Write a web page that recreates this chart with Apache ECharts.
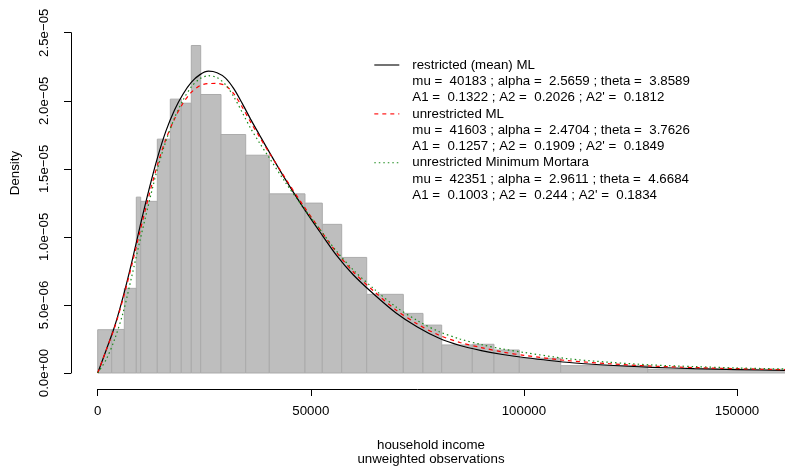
<!DOCTYPE html>
<html><head><meta charset="utf-8">
<script src="https://cdn.jsdelivr.net/npm/echarts@6/dist/echarts.min.js"></script>
<style>html,body{margin:0;padding:0;background:#fff}#c{width:785px;height:468px}</style>
</head><body><div id="c"></div>
<script>
// ---- data ----
const binEdges = [0, 3285, 6241, 9057, 10089, 13984, 17034, 19615, 21962, 24167, 28930, 34725, 40263,
  48639, 52698, 57250, 63116, 71704, 76326, 80713, 87893, 92980, 98920, 108640, 129050, 170000];
const binDensity = [3.18e-6, 3.2e-6, 6.22e-6, 1.292e-5, 1.261e-5, 1.718e-5, 2.012e-5, 1.982e-5, 2.406e-5,
  2.046e-5, 1.752e-5, 1.6e-5, 1.316e-5, 1.248e-5, 1.092e-5, 8.49e-6, 5.78e-6, 4.38e-6, 3.52e-6, 2.06e-6,
  2.11e-6, 1.69e-6, 1.08e-6, 5.4e-7, 2.7e-7];

const incomeGrid = [0,2000,4000,6000,8000,10000,12000,14000,16000,18000,20000,22000,24000,26000,28000,30000,
  32000,34000,36000,38000,40000,44000,48000,52000,56000,60000,65000,70000,75000,80000,85000,90000,95000,
  100000,110000,120000,130000,140000,150000,162000];
const densRestricted = [0,1.69e-6,3.45e-6,5.65e-6,8.15e-6,1.087e-5,1.344e-5,1.579e-5,1.777e-5,1.931e-5,2.048e-5,
  2.137e-5,2.192e-5,2.217e-5,2.206e-5,2.166e-5,2.085e-5,1.975e-5,1.858e-5,1.747e-5,1.637e-5,1.424e-5,1.226e-5,
  1.043e-5,8.66e-6,7.2e-6,5.73e-6,4.41e-6,3.38e-6,2.57e-6,2.02e-6,1.65e-6,1.36e-6,1.14e-6,7.9e-7,5.7e-7,4.2e-7,
  3.2e-7,2.5e-7,1.8e-7];
const densUnrestricted = [0,1.69e-6,3.38e-6,5.51e-6,7.93e-6,1.05e-5,1.3e-5,1.527e-5,1.718e-5,1.865e-5,1.982e-5,
  2.063e-5,2.111e-5,2.126e-5,2.127e-5,2.111e-5,2.048e-5,1.949e-5,1.836e-5,1.733e-5,1.63e-5,1.432e-5,1.241e-5,
  1.061e-5,8.88e-6,7.42e-6,5.95e-6,4.63e-6,3.6e-6,2.79e-6,2.24e-6,1.87e-6,1.54e-6,1.3e-6,9.2e-7,6.8e-7,5.1e-7,
  4.0e-7,3.2e-7,2.4e-7];
const densMortara = [0,9.9e-7,2.5e-6,4.48e-6,7.12e-6,9.84e-6,1.248e-5,1.498e-5,1.703e-5,1.872e-5,2.004e-5,
  2.103e-5,2.162e-5,2.184e-5,2.17e-5,2.118e-5,2.026e-5,1.909e-5,1.791e-5,1.689e-5,1.593e-5,1.402e-5,1.226e-5,
  1.061e-5,8.96e-6,7.56e-6,6.13e-6,4.85e-6,3.85e-6,3.05e-6,2.5e-6,2.09e-6,1.76e-6,1.51e-6,1.06e-6,7.9e-7,5.9e-7,
  4.7e-7,3.7e-7,2.9e-7];

const xTicks = [0, 50000, 100000, 150000];
const xTickLabels = ['0', '50000', '100000', '150000'];
const yTickLabels = ['0.0e+00', '5.0e\u221206', '1.0e\u221205', '1.5e\u221205', '2.0e\u221205', '2.5e\u221205'];
const xTitle = ['household income', 'unweighted observations'];
const yTitle = 'Density';
const legendNames = ['restricted (mean) ML', 'unrestricted ML', 'unrestricted Minimum Mortara'];
const legendParams = ['mu =  40183 ; alpha =  2.5659 ; theta =  3.8589',
                      'mu =  41603 ; alpha =  2.4704 ; theta =  3.7626',
                      'mu =  42351 ; alpha =  2.9611 ; theta =  4.6684'];
const legendIneq = ["A1 =  0.1322 ; A2 =  0.2026 ; A2' =  0.1812",
                    "A1 =  0.1257 ; A2 =  0.1909 ; A2' =  0.1849",
                    "A1 =  0.1003 ; A2 =  0.244 ; A2' =  0.1834"];

// ---- styling ----
const FONT = '"Liberation Sans", Arial, Helvetica, sans-serif';
const FS = 13.3;
const colors = ['#000000', '#ff0000', '#1b8a1b'];
const dashes = ['solid', [4, 4], [1.5, 3]];

const bins = binDensity.map((d, i) => [binEdges[i], binEdges[i + 1], d]);
const pairs = arr => incomeGrid.map((x, i) => [x, arr[i]]);
const curves = [densRestricted, densUnrestricted, densMortara];

const chart = echarts.init(document.getElementById('c'), null, {renderer: 'canvas'});

const graphic = [];
// legend
const legX = 412.3, legY0 = 65, legStep = 16.3;
legendNames.forEach((name, k) => {
  const yy = legY0 + legStep * 3 * k;
  graphic.push({type: 'line', shape: {x1: 374.3, y1: yy, x2: 399.3, y2: yy},
    style: {stroke: colors[k], lineWidth: 1.1, lineDash: dashes[k] === 'solid' ? null : dashes[k]}});
  [name, legendParams[k], legendIneq[k]].forEach((t, j) => {
    graphic.push({type: 'text', style: {text: t, x: legX, y: yy + legStep * j, font: FS + 'px ' + FONT,
      fill: '#000', textAlign: 'left', textVerticalAlign: 'middle', align: 'left', verticalAlign: 'middle'}});
  });
});
// axis titles
xTitle.forEach((t, j) => {
  graphic.push({type: 'text', style: {text: t, x: 431, y: 445 + 14.7 * j, font: FS + 'px ' + FONT, fill: '#000',
    textAlign: 'center', textVerticalAlign: 'middle', align: 'center', verticalAlign: 'middle'}});
});
graphic.push({type: 'text', x: 15, y: 173, rotation: Math.PI / 2,
  style: {text: yTitle, x: 0, y: 0, font: FS + 'px ' + FONT, fill: '#000',
    textAlign: 'center', textVerticalAlign: 'middle', align: 'center', verticalAlign: 'middle'}});

const option = {
  animation: false,
  backgroundColor: '#ffffff',
  grid: [
    {left: 97.7, top: 32.7, width: 687.3, height: 340.3},
    {left: 97.7, top: 32.7, width: 639.3, height: 356.3},
    {left: 71, top: 32.7, width: 600, height: 340.3}
  ],
  xAxis: [
    {gridIndex: 0, type: 'value', min: 0, max: 161262, show: false},
    {gridIndex: 1, type: 'value', min: 0, max: 150000, interval: 50000,
      axisLine: {show: true, lineStyle: {color: '#000', width: 1}},
      axisTick: {show: true, length: 7, lineStyle: {color: '#000', width: 1}},
      splitLine: {show: false},
      axisLabel: {margin: 16, fontSize: FS, fontFamily: FONT, color: '#000',
        formatter: v => xTickLabels[xTicks.indexOf(v)] ?? ''}},
    {gridIndex: 2, type: 'value', show: false}
  ],
  yAxis: [
    {gridIndex: 0, type: 'value', min: 0, max: 2.5e-5, show: false},
    {gridIndex: 1, type: 'value', show: false},
    {gridIndex: 2, type: 'value', min: 0, max: 2.5e-5, interval: 5e-6, position: 'left',
      axisLine: {show: true, lineStyle: {color: '#000', width: 1}},
      axisTick: {show: true, length: 7, lineStyle: {color: '#000', width: 1}},
      splitLine: {show: false},
      axisLabel: {rotate: 90, margin: 20, fontSize: FS, fontFamily: FONT, color: '#000',
        formatter: v => yTickLabels[Math.round(v / 5e-6)] ?? ''}}
  ],
  graphic: graphic,
  series: [
    {type: 'custom', xAxisIndex: 0, yAxisIndex: 0, data: bins, encode: {x: [0, 1], y: 2},
      renderItem: (params, api) => {
        const p0 = api.coord([api.value(0), api.value(2)]);
        const p1 = api.coord([api.value(1), 0]);
        return {type: 'rect', shape: {x: p0[0], y: p0[1], width: p1[0] - p0[0], height: p1[1] - p0[1]},
          style: {fill: '#bebebe', stroke: '#ababab', lineWidth: 1}};
      }},
    ...curves.map((arr, k) => ({
      type: 'line', xAxisIndex: 0, yAxisIndex: 0, data: pairs(arr), smooth: 0.3,
      symbol: 'none', showSymbol: false, clip: true,
      lineStyle: {color: colors[k], width: 1.2, type: dashes[k]}
    }))
  ]
};
chart.setOption(option);
</script></body></html>
